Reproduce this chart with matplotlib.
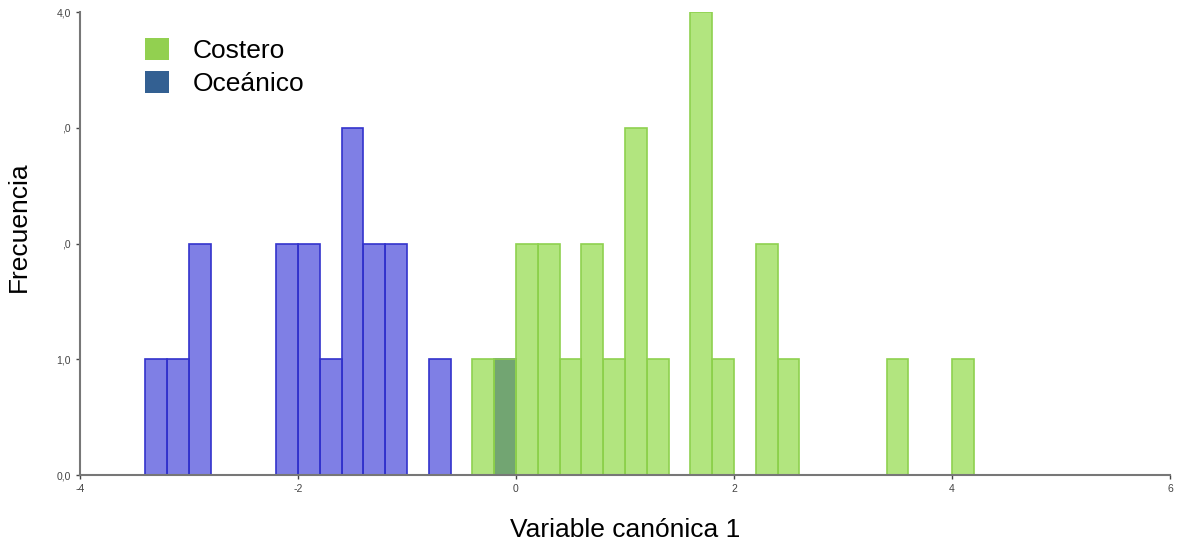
from matplotlib import pyplot as plt
from matplotlib.patches import Patch

# bin left edges (width 0.2) and counts
bin_width = 0.2
oceanico_left = [-3.4, -3.2, -3.0, -2.2, -2.0, -1.8, -1.6, -1.4, -1.2, -0.8, -0.2]
oceanico_count = [1, 1, 2, 2, 2, 1, 3, 2, 2, 1, 1]
costero_left = [-0.4, -0.2, 0.0, 0.2, 0.4, 0.6, 0.8, 1.0, 1.2, 1.6, 1.8, 2.2, 2.4, 3.4, 4.0]
costero_count = [1, 1, 2, 2, 1, 2, 1, 3, 1, 4, 1, 2, 1, 1, 1]

y_ticks = [0, 1, 2, 3, 4]
y_ticklabels = ["0,0", "1,0", ",0", ",0", "4,0"]
x_ticks = [-4, -2, 0, 2, 4, 6]

plt.rcParams['font.family'] = ['Liberation Sans', 'DejaVu Sans']

fig = plt.figure(figsize=(11.77, 5.48), dpi=100)
ax = fig.add_axes([0.068, 0.133, 0.926, 0.845])

ax.bar(oceanico_left, oceanico_count, width=bin_width, align='edge',
       facecolor=(0.0, 0.0, 0.8, 0.5), edgecolor='#3333cc', linewidth=1.2)
ax.bar(costero_left, costero_count, width=bin_width, align='edge',
       facecolor=(0.4, 0.8, 0.0, 0.5), edgecolor='#8fd14f', linewidth=1.2)

ax.set_xlim(-4, 6)
ax.set_ylim(0, 4)
ax.set_xticks(x_ticks, [str(t) for t in x_ticks])
ax.set_yticks(y_ticks, y_ticklabels)
ax.tick_params(labelsize=7.5, colors='#444444', length=3, width=1)
for s in ['top', 'right']:
    ax.spines[s].set_visible(False)
for s in ['left', 'bottom']:
    ax.spines[s].set_color('#777777')
    ax.spines[s].set_linewidth(1.5)

ax.set_xlabel("Variable canónica 1", fontsize=19, labelpad=17)
ax.set_ylabel("Frecuencia", fontsize=19)
ax.yaxis.set_label_coords(-0.045, 0.536)

# legend with solid colours, as in the reference
handles = [Patch(facecolor='#92d050', label='Costero'),
           Patch(facecolor='#336092', label='Oceánico')]
ax.legend(handles=handles, loc='upper left', bbox_to_anchor=(0.038, 0.995),
          frameon=False, fontsize=19, handlelength=0.9, handleheight=0.9,
          handletextpad=0.9, labelspacing=0.3)

plt.savefig("out.png", dpi=100)
